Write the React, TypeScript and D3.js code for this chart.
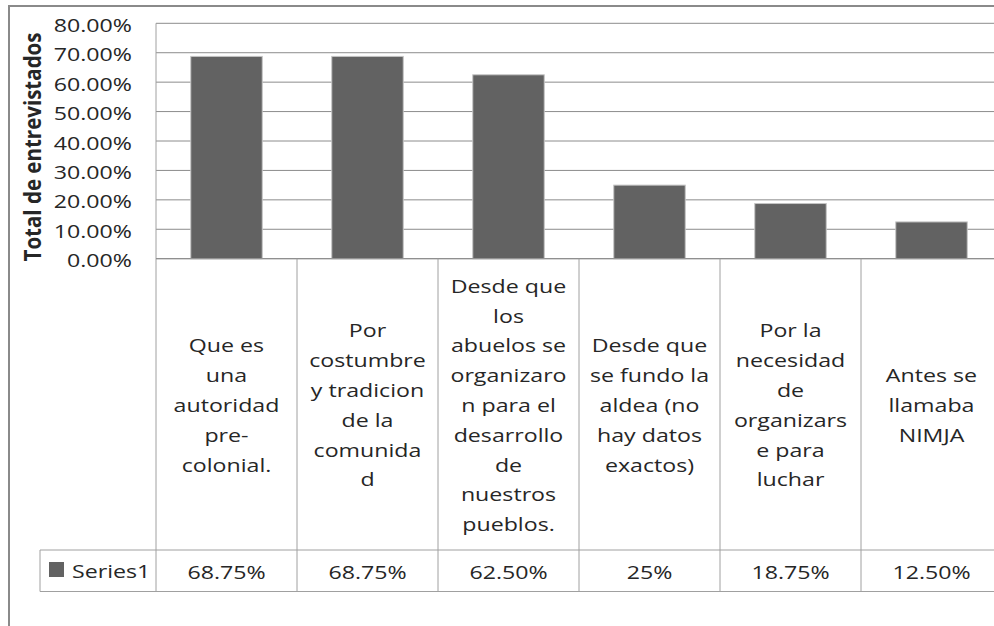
import React from "react";
import * as d3 from "d3";

const categories: string[][] = [
  ["Que es", "una", "autoridad", "pre-", "colonial."],
  ["Por", "costumbre", "y tradicion", "de la", "comunida", "d"],
  ["Desde que", "los", "abuelos se", "organizaro", "n para el", "desarrollo", "de", "nuestros", "pueblos."],
  ["Desde que", "se fundo la", "aldea (no", "hay datos", "exactos)"],
  ["Por la", "necesidad", "de", "organizars", "e para", "luchar"],
  ["Antes se", "llamaba", "NIMJA"],
];
const values: number[] = [0.6875, 0.6875, 0.625, 0.25, 0.1875, 0.125];
const valueLabels: string[] = ["68.75%", "68.75%", "62.50%", "25%", "18.75%", "12.50%"];
const yTicks: number[] = [0, 0.1, 0.2, 0.3, 0.4, 0.5, 0.6, 0.7, 0.8];
const seriesName = "Series1";
const yTitle = "Total de entrevistados";

const W = 994;
const H = 626;
const FONT = "'Open Sans', 'DejaVu Sans', sans-serif";
const SX = 1.22;
const FS = 19;
const TEXT = "#262626";
const GRID = "#8c8c8c";
const TABLE = "#a0a0a0";
const BAR = "#626262";

export default function App() {
  const plotLeft = 156;
  const plotRight = 1002;
  const plotTop = 23.3;
  const plotBottom = 258.7;
  const headerBottom = 550;
  const rowBottom = 591.5;
  const tableLeft = 40;

  const idx = categories.map((_, i) => String(i));
  const xCell = d3.scaleBand<string>().domain(idx).range([plotLeft, plotRight]).padding(0);
  const xBar = d3
    .scaleBand<string>()
    .domain(idx)
    .range([plotLeft, plotRight])
    .paddingInner(0.493)
    .paddingOuter(0.2465);
  const y = d3.scaleLinear().domain([0, 0.8]).range([plotBottom, plotTop]);
  const fmt = (v: number) => (v * 100).toFixed(2) + "%";

  const lineH = 29.8;
  const headerMid = (plotBottom + headerBottom) / 2;
  const rowMid = (headerBottom + rowBottom) / 2;

  const txt = (x: number, yy: number, s: string, anchor: string, key?: string | number) => (
    <text
      key={key}
      transform={`translate(${x},${yy}) scale(${SX},1)`}
      textAnchor={anchor}
      dominantBaseline="central"
      fontFamily={FONT}
      fontSize={FS}
      fill={TEXT}
    >
      {s}
    </text>
  );

  return (
    <svg
      width={W}
      height={H}
      style={{ position: "absolute", left: 0, top: 0, background: "#fff" }}
    >
      <rect x={0} y={0} width={W} height={H} fill="#fff" />
      {/* outer chart border */}
      <rect x={9} y={6} width={W + 20} height={H + 20} fill="none" stroke="#8a8a8a" strokeWidth={2} />

      {/* gridlines */}
      {yTicks.map((t) => (
        <line key={t} x1={plotLeft} x2={plotRight} y1={y(t)} y2={y(t)} stroke={GRID} strokeWidth={1} />
      ))}
      {/* y tick labels */}
      {yTicks.map((t) => txt(132, y(t) + 1, fmt(t), "end", "t" + t))}

      {/* y title */}
      <text
        transform={`translate(32,${(plotTop + plotBottom) / 2 + 6}) scale(${SX},1) rotate(-90)`}
        textAnchor="middle"
        dominantBaseline="central"
        fontFamily={FONT}
        fontSize={18.5}
        fontWeight="bold"
        fill={TEXT}
        textLength={229}
        lengthAdjust="spacingAndGlyphs"
      >
        {yTitle}
      </text>

      {/* bars */}
      {values.map((v, i) => (
        <rect
          key={i}
          x={xBar(String(i))}
          y={y(v)}
          width={xBar.bandwidth()}
          height={y(0) - y(v)}
          fill={BAR}
          stroke="#c4c4c4"
          strokeWidth={1}
        />
      ))}

      {/* table lines */}
      <line x1={plotLeft} x2={plotLeft} y1={plotTop} y2={rowBottom} stroke={TABLE} />
      <line x1={plotLeft} x2={plotRight} y1={plotBottom} y2={plotBottom} stroke={GRID} />
      {idx.slice(1).map((k) => (
        <line key={k} x1={xCell(k)} x2={xCell(k)} y1={plotBottom} y2={rowBottom} stroke={TABLE} />
      ))}
      <line x1={tableLeft} x2={plotRight} y1={headerBottom} y2={headerBottom} stroke={TABLE} />
      <line x1={tableLeft} x2={plotRight} y1={rowBottom} y2={rowBottom} stroke={TABLE} />
      <line x1={tableLeft} x2={tableLeft} y1={headerBottom} y2={rowBottom} stroke={TABLE} />

      {/* category labels */}
      {categories.map((lines, i) => {
        const cx = (xCell(String(i)) as number) + xCell.bandwidth() / 2;
        const start = headerMid - ((lines.length - 1) * lineH) / 2;
        return lines.map((l, j) => txt(cx, start + j * lineH, l, "middle", `c${i}-${j}`));
      })}

      {/* legend cell */}
      <rect x={49} y={562} width={15} height={15} fill={BAR} />
      {txt(72, rowMid, seriesName, "start", "legend")}

      {/* value labels */}
      {valueLabels.map((s, i) =>
        txt((xCell(String(i)) as number) + xCell.bandwidth() / 2, rowMid + 1, s, "middle", "v" + i)
      )}
    </svg>
  );
}
